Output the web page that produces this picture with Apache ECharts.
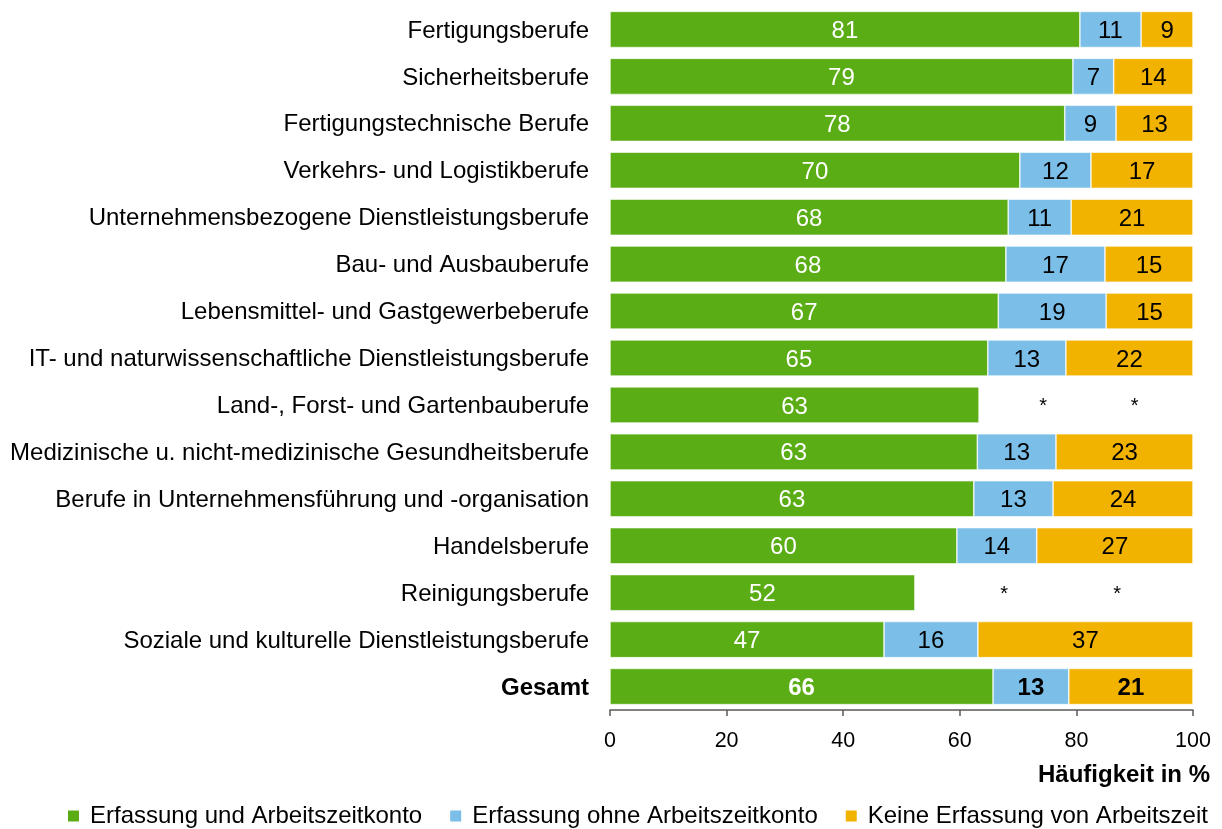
<!DOCTYPE html>
<html>
<head>
<meta charset="utf-8">
<script src="https://cdn.jsdelivr.net/npm/echarts@6/dist/echarts.min.js"></script>
<style>
  html, body { margin: 0; padding: 0; background: #fff; }
  #chart { width: 1222px; height: 829px; }
</style>
</head>
<body>
<div id="chart"></div>
<script>
// top to bottom, as in the figure
const categories = [
  'Fertigungsberufe',
  'Sicherheitsberufe',
  'Fertigungstechnische Berufe',
  'Verkehrs- und Logistikberufe',
  'Unternehmensbezogene Dienstleistungsberufe',
  'Bau- und Ausbauberufe',
  'Lebensmittel- und Gastgewerbeberufe',
  'IT- und naturwissenschaftliche Dienstleistungsberufe',
  'Land-, Forst- und Gartenbauberufe',
  'Medizinische u. nicht-medizinische Gesundheitsberufe',
  'Berufe in Unternehmensführung und -organisation',
  'Handelsberufe',
  'Reinigungsberufe',
  'Soziale und kulturelle Dienstleistungsberufe',
  'Gesamt'
]
// bar widths as drawn (unrounded shares)
const mitKonto = [80.6, 79.4, 78.0, 70.3, 68.3, 67.9, 66.6, 64.8, 63.3, 63.0, 62.4, 59.5, 52.3, 47.0, 65.7]
const ohneKonto = [10.5, 7.0, 8.8, 12.2, 10.8, 17.0, 18.5, 13.4, null, 13.5, 13.6, 13.7, null, 16.1, 13.0]
const keineErfassung = [8.9, 13.6, 13.2, 17.5, 20.9, 15.1, 14.9, 21.8, null, 23.5, 24.0, 26.8, null, 36.9, 21.3]
// printed labels
const mitKontoLabels = [81, 79, 78, 70, 68, 68, 67, 65, 63, 63, 63, 60, 52, 47, 66]
const ohneKontoLabels = [11, 7, 9, 12, 11, 17, 19, 13, '*', 13, 13, 14, '*', 16, 13]
const keineLabels = [9, 14, 13, 17, 21, 15, 15, 22, '*', 23, 24, 27, '*', 37, 21]
// where the '*' markers sit for suppressed rows (invisible segment widths)
const hiddenOhne = { 8: 22.0, 12: 30.6 }
const hiddenKeine = { 8: 9.4, 12: 8.2 }

const seriesNames = ['Erfassung und Arbeitszeitkonto', 'Erfassung ohne Arbeitszeitkonto', 'Keine Erfassung von Arbeitszeit']
const colors = ['#5aad15', '#7bbfe8', '#f2b200']
const xTicks = [0, 20, 40, 60, 80, 100]

const FONT = 'Liberation Sans, Arial, sans-serif'
const isTotal = i => categories[i] === 'Gesamt'

function buildData(values, labels, hidden) {
  return values.map((v, i) => {
    const star = labels[i] === '*'
    const item = {
      value: star ? hidden[i] : v,
      label: {
        formatter: String(labels[i]),
        fontWeight: isTotal(i) ? 'bold' : 'normal',
        fontSize: star ? 20 : 24,
        offset: [0, 2]
      }
    }
    if (star) item.itemStyle = { color: 'rgba(0,0,0,0)', borderColor: 'rgba(0,0,0,0)' }
    return item
  }).reverse()
}

const chart = echarts.init(document.getElementById('chart'))

chart.setOption({
  animation: false,
  textStyle: { fontFamily: FONT },
  grid: { left: 610, right: 29, top: 6, bottom: 119, containLabel: false },
  title: {
    text: 'Häufigkeit in %',
    right: 12,
    top: 763,
    padding: 0,
    textStyle: { fontSize: 24, fontWeight: 'bold', color: '#000', fontFamily: FONT }
  },
  legend: {
    data: seriesNames,
    left: 66,
    top: 804,
    padding: 0,
    itemWidth: 13,
    itemHeight: 13,
    itemGap: 26,
    icon: 'rect',
    textStyle: { fontSize: 24, color: '#000', padding: [0, 0, 0, 5], fontFamily: FONT }
  },
  xAxis: {
    type: 'value',
    min: 0,
    max: 100,
    interval: 20,
    axisLine: { show: true, lineStyle: { color: '#595959', width: 1.5 } },
    axisTick: { show: true, length: 6, lineStyle: { color: '#595959', width: 1.5 } },
    splitLine: { show: false },
    axisLabel: {
      fontSize: 21.5,
      color: '#000',
      margin: 20,
      formatter: v => xTicks.includes(v) ? String(v) : ''
    }
  },
  yAxis: {
    type: 'category',
    data: categories.slice().reverse(),
    axisLine: { show: false },
    axisTick: { show: false },
    axisLabel: {
      fontSize: 24,
      color: '#000',
      margin: 21,
      padding: [3, 0, 0, 0],
      formatter: v => v === 'Gesamt' ? '{b|' + v + '}' : v,
      rich: { b: { fontSize: 24, fontWeight: 'bold', color: '#000', fontFamily: FONT } }
    }
  },
  series: [
    {
      name: seriesNames[0],
      type: 'bar',
      stack: 'total',
      barCategoryGap: '23%',
      itemStyle: { color: colors[0], borderColor: '#fff', borderWidth: 0.6 },
      label: { show: true, position: 'inside', color: '#fff', fontSize: 24 },
      data: buildData(mitKonto, mitKontoLabels, {})
    },
    {
      name: seriesNames[1],
      type: 'bar',
      stack: 'total',
      itemStyle: { color: colors[1], borderColor: '#fff', borderWidth: 0.6 },
      label: { show: true, position: 'inside', color: '#000', fontSize: 24 },
      data: buildData(ohneKonto, ohneKontoLabels, hiddenOhne)
    },
    {
      name: seriesNames[2],
      type: 'bar',
      stack: 'total',
      itemStyle: { color: colors[2], borderColor: '#fff', borderWidth: 0.6 },
      label: { show: true, position: 'inside', color: '#000', fontSize: 24 },
      data: buildData(keineErfassung, keineLabels, hiddenKeine)
    }
  ]
})
</script>
</body>
</html>
